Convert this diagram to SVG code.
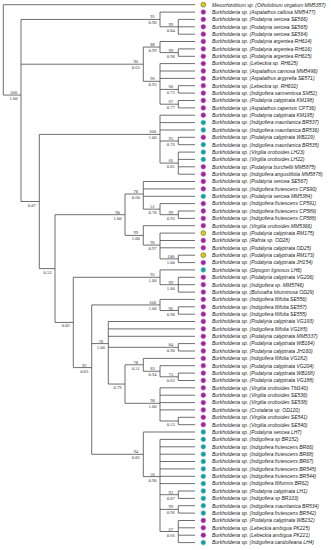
<svg xmlns="http://www.w3.org/2000/svg" width="331" height="550" viewBox="0 0 331 550">
<style>
.br{fill:none;stroke:#4a4a4a;stroke-width:0.8}
.lf{font-family:"Liberation Sans",Arial,sans-serif;font-size:5px;font-style:italic;fill:#222}
.bs{font-family:"Liberation Serif","Times New Roman",serif;font-size:4.6px;fill:#333;text-anchor:middle}
.dp{fill:#a0229e;stroke:#c46ac2;stroke-width:0.6}
.dt{fill:#1a9a9a;stroke:#6cc4c4;stroke-width:0.6}
.dy{fill:#d6cb26;stroke:#7d7620;stroke-width:0.7}
</style>
<rect width="331" height="550" fill="#ffffff"/>
<g id="connectors" class="br">
<path d="M3.3 4.7V95.05M3.3 95.05H21M21 19.45V201.5M21 19.45H160M21 64.2H143.3M21 201.5H39.3M160 12.1V26.8M160 26.8H178.3M178.3 19.4V34.2M143.3 47.05V81.3M143.3 47.05H160M143.3 81.3H160M160 41.5V52.6M160 52.6H178.3M178.3 48.9V56.3M160 63.6V104.2M160 89.4H178.3M160 104.2H178.3M178.3 85.7V93.1M178.3 100.5V107.9M39.3 134.4V268.6M39.3 134.4H160M39.3 268.6H55M160 115.2V163.1M160 141H178.3M160 163.1H178.3M178.3 137.3V144.7M178.3 152.1V174.2M55 214.7V322.45M55 214.7H125M55 322.45H73.3M125 194V235.4M125 194H143.3M125 235.4H143.3M143.3 181.5V209.15M143.3 209.15H160M160 203.6V214.7M160 214.7H178.3M178.3 211V218.4M143.3 225.7V245.1M143.3 245.1H160M160 233.1V258.9M160 258.9H178.3M178.3 255.2V262.6M73.3 277.3V367.6M73.3 277.3H160M73.3 367.6H91.7M160 269.9V284.7M160 284.7H178.3M178.3 277.3V292.1M91.7 304.95V454.3M91.7 304.95H160M91.7 343.6H108.3M91.7 454.3H143.3M160 299.4V310.5M160 310.5H178.3M178.3 306.8V314.2M108.3 321.5V384.05M108.3 347.3H178.3M108.3 384.05H125M178.3 343.6V351M125 364.8V403.3M125 364.8H143.3M125 403.3H160M143.3 358.4V371.25M143.3 371.25H160M160 365.7V376.8M160 376.8H178.3M178.3 373.1V380.5M160 387.8V421M160 421H178.3M178.3 417.3V424.7M143.3 432V476.6M143.3 476.6H160M160 439.4V531.5M160 494.7H178.3M160 509.4H178.3M160 531.5H178.3M178.3 491V498.4M178.3 505.7V513.1M178.3 520.5V542.6"/>
<path d="M3.3 4.7H195M160 12.1H195M178.3 19.4H195M178.3 26.8H195M178.3 34.2H195M160 41.5H195M178.3 48.9H195M178.3 56.3H195M160 63.6H195M160 71H195M160 78.4H195M178.3 85.7H195M178.3 93.1H195M178.3 100.5H195M178.3 107.9H195M160 115.2H195M160 122.6H195M160 130H195M178.3 137.3H195M178.3 144.7H195M178.3 152.1H195M178.3 159.4H195M178.3 166.8H195M178.3 174.2H195M143.3 181.5H195M143.3 188.9H195M143.3 196.3H195M160 203.6H195M178.3 211H195M178.3 218.4H195M143.3 225.7H195M160 233.1H195M160 240.5H195M160 247.8H195M178.3 255.2H195M178.3 262.6H195M160 269.9H195M178.3 277.3H195M178.3 284.7H195M178.3 292.1H195M160 299.4H195M178.3 306.8H195M178.3 314.2H195M108.3 321.5H195M108.3 328.9H195M108.3 336.3H195M178.3 343.6H195M178.3 351H195M143.3 358.4H195M160 365.7H195M178.3 373.1H195M178.3 380.5H195M160 387.8H195M160 395.2H195M160 402.6H195M160 409.9H195M178.3 417.3H195M178.3 424.7H195M143.3 432H195M160 439.4H195M160 446.8H195M160 454.2H195M160 461.5H195M160 468.9H195M160 476.3H195M160 483.6H195M178.3 491H195M178.3 498.4H195M178.3 505.7H195M178.3 513.1H195M178.3 520.5H195M178.3 527.8H195M178.3 535.2H195M178.3 542.6H195"/>
</g>
<g id="supports">
<g id="s_root"><text class="bs" x="13.5" y="94.05">100</text><text class="bs" x="13.5" y="100.05">1.00</text></g>
<g id="s_A"><text class="bs" x="152.5" y="18.45">95</text><text class="bs" x="152.5" y="24.45">0.90</text></g>
<g id="s_B"><text class="bs" x="170.8" y="25.8">99</text><text class="bs" x="170.8" y="31.8">0.84</text></g>
<g id="s_C"><text class="bs" x="135.8" y="63.2">96</text><text class="bs" x="135.8" y="69.2">0.63</text></g>
<g id="s_D"><text class="bs" x="152.5" y="46.05">88</text><text class="bs" x="152.5" y="52.05">0.99</text></g>
<g id="s_D1"><text class="bs" x="170.8" y="51.6">99</text><text class="bs" x="170.8" y="57.6">0.98</text></g>
<g id="s_E"><text class="bs" x="152.5" y="80.3">96</text><text class="bs" x="152.5" y="86.3">0.93</text></g>
<g id="s_F"><text class="bs" x="170.8" y="88.4">60</text><text class="bs" x="170.8" y="94.4">0.73</text></g>
<g id="s_G"><text class="bs" x="170.8" y="103.2">67</text><text class="bs" x="170.8" y="109.2">0.77</text></g>
<g id="s_N3"><text class="bs" x="31.8" y="206.5">0.87</text></g>
<g id="s_I"><text class="bs" x="152.5" y="133.4">100</text><text class="bs" x="152.5" y="139.4">1.00</text></g>
<g id="s_N19"><text class="bs" x="170.8" y="140">93</text><text class="bs" x="170.8" y="146">0.76</text></g>
<g id="s_H"><text class="bs" x="170.8" y="162.1">66</text><text class="bs" x="170.8" y="168.1">0.81</text></g>
<g id="s_N2"><text class="bs" x="47.5" y="273.6">0.53</text></g>
<g id="s_J"><text class="bs" x="117.5" y="213.7">90</text><text class="bs" x="117.5" y="219.7">1.00</text></g>
<g id="s_K"><text class="bs" x="135.8" y="193">78</text><text class="bs" x="135.8" y="199">0.60</text></g>
<g id="s_M"><text class="bs" x="152.5" y="208.15">51</text><text class="bs" x="152.5" y="214.15">0.78</text></g>
<g id="s_N29"><text class="bs" x="170.8" y="213.7">99</text><text class="bs" x="170.8" y="219.7">0.93</text></g>
<g id="s_L"><text class="bs" x="135.8" y="234.4">99</text><text class="bs" x="135.8" y="240.4">1.00</text></g>
<g id="s_P"><text class="bs" x="152.5" y="244.1">96</text><text class="bs" x="152.5" y="250.1">0.97</text></g>
<g id="s_Q"><text class="bs" x="170.8" y="257.9">100</text><text class="bs" x="170.8" y="263.9">1.00</text></g>
<g id="s_S"><text class="bs" x="65.8" y="327.45">0.82</text></g>
<g id="s_T"><text class="bs" x="152.5" y="276.3">95</text><text class="bs" x="152.5" y="282.3">1.00</text></g>
<g id="s_V"><text class="bs" x="170.8" y="283.7">99</text><text class="bs" x="170.8" y="289.7">1.00</text></g>
<g id="s_U"><text class="bs" x="84.2" y="366.6">92</text><text class="bs" x="84.2" y="372.6">0.83</text></g>
<g id="s_W"><text class="bs" x="152.5" y="303.95">100</text><text class="bs" x="152.5" y="309.95">1.00</text></g>
<g id="s_GG"><text class="bs" x="170.8" y="309.5">96</text><text class="bs" x="170.8" y="315.5">0.98</text></g>
<g id="s_X"><text class="bs" x="100.8" y="342.6">70</text><text class="bs" x="100.8" y="348.6">1.00</text></g>
<g id="s_Z"><text class="bs" x="170.8" y="346.3">84</text><text class="bs" x="170.8" y="352.3">0.90</text></g>
<g id="s_AA"><text class="bs" x="117.5" y="389.05">0.79</text></g>
<g id="s_DD"><text class="bs" x="135.8" y="363.8">78</text><text class="bs" x="135.8" y="369.8">0.51</text></g>
<g id="s_EE"><text class="bs" x="152.5" y="370.25">83</text><text class="bs" x="152.5" y="376.25">0.94</text></g>
<g id="s_FF"><text class="bs" x="170.8" y="375.8">73</text><text class="bs" x="170.8" y="381.8">0.63</text></g>
<g id="s_BB"><text class="bs" x="152.5" y="402.3">98</text><text class="bs" x="152.5" y="408.3">1.00</text></g>
<g id="s_CC"><text class="bs" x="170.8" y="426">0.53</text></g>
<g id="s_Y"><text class="bs" x="135.8" y="453.3">94</text><text class="bs" x="135.8" y="459.3">0.82</text></g>
<g id="s_HH"><text class="bs" x="152.5" y="475.6">56</text><text class="bs" x="152.5" y="481.6">0.90</text></g>
<g id="s_N67"><text class="bs" x="170.8" y="493.7">93</text><text class="bs" x="170.8" y="499.7">0.87</text></g>
<g id="s_N69"><text class="bs" x="170.8" y="508.4">99</text><text class="bs" x="170.8" y="514.4">0.96</text></g>
<g id="s_N71"><text class="bs" x="170.8" y="530.5">67</text><text class="bs" x="170.8" y="536.5">0.66</text></g>
</g>
<g id="leaves">
<g id="leaf1" transform="translate(0,4.7)"><circle class="dy" cx="203.3" cy="0" r="2.4"/><text class="lf" x="212" y="1.8">Mesorhizobium sp. (Otholobium virgatum MM5357)</text></g>
<g id="leaf2" transform="translate(0,12.1)"><circle class="dp" cx="203.3" cy="0" r="2.4"/><text class="lf" x="212" y="1.8">Burkholderia sp. (Aspalathus callosa MM5477)</text></g>
<g id="leaf3" transform="translate(0,19.4)"><circle class="dp" cx="203.3" cy="0" r="2.4"/><text class="lf" x="212" y="1.8">Burkholderia sp. (Podalyria sericea SE566)</text></g>
<g id="leaf4" transform="translate(0,26.8)"><circle class="dp" cx="203.3" cy="0" r="2.4"/><text class="lf" x="212" y="1.8">Burkholderia sp. (Podalyria sericea SE565)</text></g>
<g id="leaf5" transform="translate(0,34.2)"><circle class="dp" cx="203.3" cy="0" r="2.4"/><text class="lf" x="212" y="1.8">Burkholderia sp. (Podalyria sericea SE564)</text></g>
<g id="leaf6" transform="translate(0,41.5)"><circle class="dp" cx="203.3" cy="0" r="2.4"/><text class="lf" x="212" y="1.8">Burkholderia sp. (Podalyria argentea RH614)</text></g>
<g id="leaf7" transform="translate(0,48.9)"><circle class="dp" cx="203.3" cy="0" r="2.4"/><text class="lf" x="212" y="1.8">Burkholderia sp. (Podalyria argentea RH616)</text></g>
<g id="leaf8" transform="translate(0,56.3)"><circle class="dp" cx="203.3" cy="0" r="2.4"/><text class="lf" x="212" y="1.8">Burkholderia sp. (Podalyria argentea RH615)</text></g>
<g id="leaf9" transform="translate(0,63.6)"><circle class="dp" cx="203.3" cy="0" r="2.4"/><text class="lf" x="212" y="1.8">Burkholderia sp. (Lebeckia sp. RH625)</text></g>
<g id="leaf10" transform="translate(0,71)"><circle class="dp" cx="203.3" cy="0" r="2.4"/><text class="lf" x="212" y="1.8">Burkholderia sp. (Aspalathus carnosa MM5496)</text></g>
<g id="leaf11" transform="translate(0,78.4)"><circle class="dp" cx="203.3" cy="0" r="2.4"/><text class="lf" x="212" y="1.8">Burkholderia sp. (Aspalathus argyrella SE571)</text></g>
<g id="leaf12" transform="translate(0,85.7)"><circle class="dp" cx="203.3" cy="0" r="2.4"/><text class="lf" x="212" y="1.8">Burkholderia sp. (Lebeckia sp. RH602)</text></g>
<g id="leaf13" transform="translate(0,93.1)"><circle class="dp" cx="203.3" cy="0" r="2.4"/><text class="lf" x="212" y="1.8">Burkholderia sp. (Indigofera sarmentosa SM52)</text></g>
<g id="leaf14" transform="translate(0,100.5)"><circle class="dp" cx="203.3" cy="0" r="2.4"/><text class="lf" x="212" y="1.8">Burkholderia sp. (Podalyria calyptrata KM198)</text></g>
<g id="leaf15" transform="translate(0,107.9)"><circle class="dp" cx="203.3" cy="0" r="2.4"/><text class="lf" x="212" y="1.8">Burkholderia sp. (Aspalathus capensis CPT36)</text></g>
<g id="leaf16" transform="translate(0,115.2)"><circle class="dp" cx="203.3" cy="0" r="2.4"/><text class="lf" x="212" y="1.8">Burkholderia sp. (Podalyria calyptrata KM195)</text></g>
<g id="leaf17" transform="translate(0,122.6)"><circle class="dt" cx="203.3" cy="0" r="2.4"/><text class="lf" x="212" y="1.8">Burkholderia sp. (Indigofera mauritanica BR537)</text></g>
<g id="leaf18" transform="translate(0,130)"><circle class="dt" cx="203.3" cy="0" r="2.4"/><text class="lf" x="212" y="1.8">Burkholderia sp. (Indigofera mauritanica BR536)</text></g>
<g id="leaf19" transform="translate(0,137.3)"><circle class="dp" cx="203.3" cy="0" r="2.4"/><text class="lf" x="212" y="1.8">Burkholderia sp. (Podalyria calyptrata WB229)</text></g>
<g id="leaf20" transform="translate(0,144.7)"><circle class="dt" cx="203.3" cy="0" r="2.4"/><text class="lf" x="212" y="1.8">Burkholderia sp. (Indigofera mauritanica BR535)</text></g>
<g id="leaf21" transform="translate(0,152.1)"><circle class="dt" cx="203.3" cy="0" r="2.4"/><text class="lf" x="212" y="1.8">Burkholderia sp. (Virgilia oroboides LH23)</text></g>
<g id="leaf22" transform="translate(0,159.4)"><circle class="dt" cx="203.3" cy="0" r="2.4"/><text class="lf" x="212" y="1.8">Burkholderia sp. (Virgilia oroboides LH22)</text></g>
<g id="leaf23" transform="translate(0,166.8)"><circle class="dp" cx="203.3" cy="0" r="2.4"/><text class="lf" x="212" y="1.8">Burkholderia sp. (Podalyria burchellii MM5875)</text></g>
<g id="leaf24" transform="translate(0,174.2)"><circle class="dp" cx="203.3" cy="0" r="2.4"/><text class="lf" x="212" y="1.8">Burkholderia sp. (Indigofera angustifolia MM5878)</text></g>
<g id="leaf25" transform="translate(0,181.5)"><circle class="dp" cx="203.3" cy="0" r="2.4"/><text class="lf" x="212" y="1.8">Burkholderia sp. (Podalyria sericea SE567)</text></g>
<g id="leaf26" transform="translate(0,188.9)"><circle class="dp" cx="203.3" cy="0" r="2.4"/><text class="lf" x="212" y="1.8">Burkholderia sp. (Indigofera frutescens CPS90)</text></g>
<g id="leaf27" transform="translate(0,196.3)"><circle class="dt" cx="203.3" cy="0" r="2.4"/><text class="lf" x="212" y="1.8">Burkholderia sp. (Podalyria sericea MM5384)</text></g>
<g id="leaf28" transform="translate(0,203.6)"><circle class="dp" cx="203.3" cy="0" r="2.4"/><text class="lf" x="212" y="1.8">Burkholderia sp. (Indigofera frutescens CP591)</text></g>
<g id="leaf29" transform="translate(0,211)"><circle class="dp" cx="203.3" cy="0" r="2.4"/><text class="lf" x="212" y="1.8">Burkholderia sp. (Indigofera frutescens CP589)</text></g>
<g id="leaf30" transform="translate(0,218.4)"><circle class="dp" cx="203.3" cy="0" r="2.4"/><text class="lf" x="212" y="1.8">Burkholderia sp. (Indigofera frutescens CP588)</text></g>
<g id="leaf31" transform="translate(0,225.7)"><circle class="dp" cx="203.3" cy="0" r="2.4"/><text class="lf" x="212" y="1.8">Burkholderia sp. (Virgilia oroboides MM5366)</text></g>
<g id="leaf32" transform="translate(0,233.1)"><circle class="dy" cx="203.3" cy="0" r="2.4"/><text class="lf" x="212" y="1.8">Burkholderia sp. (Podalyria calyptrata RM175)</text></g>
<g id="leaf33" transform="translate(0,240.5)"><circle class="dp" cx="203.3" cy="0" r="2.4"/><text class="lf" x="212" y="1.8">Burkholderia sp. (Rafnia sp. OD28)</text></g>
<g id="leaf34" transform="translate(0,247.8)"><circle class="dp" cx="203.3" cy="0" r="2.4"/><text class="lf" x="212" y="1.8">Burkholderia sp. (Podalyria calyptrata OD25)</text></g>
<g id="leaf35" transform="translate(0,255.2)"><circle class="dy" cx="203.3" cy="0" r="2.4"/><text class="lf" x="212" y="1.8">Burkholderia sp. (Podalyria calyptrata RM173)</text></g>
<g id="leaf36" transform="translate(0,262.6)"><circle class="dp" cx="203.3" cy="0" r="2.4"/><text class="lf" x="212" y="1.8">Burkholderia sp. (Podalyria calyptrata JH154)</text></g>
<g id="leaf37" transform="translate(0,269.9)"><circle class="dt" cx="203.3" cy="0" r="2.4"/><text class="lf" x="212" y="1.8">Burkholderia sp. (Dipogon lignosus LH6)</text></g>
<g id="leaf38" transform="translate(0,277.3)"><circle class="dp" cx="203.3" cy="0" r="2.4"/><text class="lf" x="212" y="1.8">Burkholderia sp. (Podalyria calyptrata VG206)</text></g>
<g id="leaf39" transform="translate(0,284.7)"><circle class="dp" cx="203.3" cy="0" r="2.4"/><text class="lf" x="212" y="1.8">Burkholderia sp. (Indigofera sp. MM5746)</text></g>
<g id="leaf40" transform="translate(0,292.1)"><circle class="dp" cx="203.3" cy="0" r="2.4"/><text class="lf" x="212" y="1.8">Burkholderia sp. (Bolusafra bituminosa OD29)</text></g>
<g id="leaf41" transform="translate(0,299.4)"><circle class="dp" cx="203.3" cy="0" r="2.4"/><text class="lf" x="212" y="1.8">Burkholderia sp. (Indigofera filifolia SE556)</text></g>
<g id="leaf42" transform="translate(0,306.8)"><circle class="dp" cx="203.3" cy="0" r="2.4"/><text class="lf" x="212" y="1.8">Burkholderia sp. (Indigofera filifolia SE557)</text></g>
<g id="leaf43" transform="translate(0,314.2)"><circle class="dp" cx="203.3" cy="0" r="2.4"/><text class="lf" x="212" y="1.8">Burkholderia sp. (Indigofera filifolia SE555)</text></g>
<g id="leaf44" transform="translate(0,321.5)"><circle class="dp" cx="203.3" cy="0" r="2.4"/><text class="lf" x="212" y="1.8">Burkholderia sp. (Podalyria calyptrata VG193)</text></g>
<g id="leaf45" transform="translate(0,328.9)"><circle class="dp" cx="203.3" cy="0" r="2.4"/><text class="lf" x="212" y="1.8">Burkholderia sp. (Indigofera filifolia VG185)</text></g>
<g id="leaf46" transform="translate(0,336.3)"><circle class="dp" cx="203.3" cy="0" r="2.4"/><text class="lf" x="212" y="1.8">Burkholderia sp. (Podalyria calyptrata MM5337)</text></g>
<g id="leaf47" transform="translate(0,343.6)"><circle class="dp" cx="203.3" cy="0" r="2.4"/><text class="lf" x="212" y="1.8">Burkholderia sp. (Podalyria calyptrata WB164)</text></g>
<g id="leaf48" transform="translate(0,351)"><circle class="dp" cx="203.3" cy="0" r="2.4"/><text class="lf" x="212" y="1.8">Burkholderia sp. (Podalyria calyptrata JH160)</text></g>
<g id="leaf49" transform="translate(0,358.4)"><circle class="dp" cx="203.3" cy="0" r="2.4"/><text class="lf" x="212" y="1.8">Burkholderia sp. (Indigofera filifolia VG182)</text></g>
<g id="leaf50" transform="translate(0,365.7)"><circle class="dp" cx="203.3" cy="0" r="2.4"/><text class="lf" x="212" y="1.8">Burkholderia sp. (Podalyria calyptrata VG204)</text></g>
<g id="leaf51" transform="translate(0,373.1)"><circle class="dp" cx="203.3" cy="0" r="2.4"/><text class="lf" x="212" y="1.8">Burkholderia sp. (Podalyria calyptrata WB168)</text></g>
<g id="leaf52" transform="translate(0,380.5)"><circle class="dp" cx="203.3" cy="0" r="2.4"/><text class="lf" x="212" y="1.8">Burkholderia sp. (Podalyria calyptrata VG188)</text></g>
<g id="leaf53" transform="translate(0,387.8)"><circle class="dp" cx="203.3" cy="0" r="2.4"/><text class="lf" x="212" y="1.8">Burkholderia sp. (Virgilia oroboides TM140)</text></g>
<g id="leaf54" transform="translate(0,395.2)"><circle class="dp" cx="203.3" cy="0" r="2.4"/><text class="lf" x="212" y="1.8">Burkholderia sp. (Virgilia oroboides SE536)</text></g>
<g id="leaf55" transform="translate(0,402.6)"><circle class="dp" cx="203.3" cy="0" r="2.4"/><text class="lf" x="212" y="1.8">Burkholderia sp. (Virgilia oroboides SE538)</text></g>
<g id="leaf56" transform="translate(0,409.9)"><circle class="dp" cx="203.3" cy="0" r="2.4"/><text class="lf" x="212" y="1.8">Burkholderia sp. (Crotalaria sp. OD120)</text></g>
<g id="leaf57" transform="translate(0,417.3)"><circle class="dp" cx="203.3" cy="0" r="2.4"/><text class="lf" x="212" y="1.8">Burkholderia sp. (Virgilia oroboides SE541)</text></g>
<g id="leaf58" transform="translate(0,424.7)"><circle class="dp" cx="203.3" cy="0" r="2.4"/><text class="lf" x="212" y="1.8">Burkholderia sp. (Virgilia oroboides SE540)</text></g>
<g id="leaf59" transform="translate(0,432)"><circle class="dt" cx="203.3" cy="0" r="2.4"/><text class="lf" x="212" y="1.8">Burkholderia sp. (Podalyria sericea LH7)</text></g>
<g id="leaf60" transform="translate(0,439.4)"><circle class="dt" cx="203.3" cy="0" r="2.4"/><text class="lf" x="212" y="1.8">Burkholderia sp. (Indigofera sp BR152)</text></g>
<g id="leaf61" transform="translate(0,446.8)"><circle class="dt" cx="203.3" cy="0" r="2.4"/><text class="lf" x="212" y="1.8">Burkholderia sp. (Indigofera frutescens BR66)</text></g>
<g id="leaf62" transform="translate(0,454.2)"><circle class="dt" cx="203.3" cy="0" r="2.4"/><text class="lf" x="212" y="1.8">Burkholderia sp. (Indigofera frutescens BR68)</text></g>
<g id="leaf63" transform="translate(0,461.5)"><circle class="dt" cx="203.3" cy="0" r="2.4"/><text class="lf" x="212" y="1.8">Burkholderia sp. (Indigofera frutescens BR67)</text></g>
<g id="leaf64" transform="translate(0,468.9)"><circle class="dt" cx="203.3" cy="0" r="2.4"/><text class="lf" x="212" y="1.8">Burkholderia sp. (Indigofera frutescens BR545)</text></g>
<g id="leaf65" transform="translate(0,476.3)"><circle class="dt" cx="203.3" cy="0" r="2.4"/><text class="lf" x="212" y="1.8">Burkholderia sp. (Indigofera frutescens BR544)</text></g>
<g id="leaf66" transform="translate(0,483.6)"><circle class="dt" cx="203.3" cy="0" r="2.4"/><text class="lf" x="212" y="1.8">Burkholderia sp. (Indigofera filiformis BR62)</text></g>
<g id="leaf67" transform="translate(0,491)"><circle class="dt" cx="203.3" cy="0" r="2.4"/><text class="lf" x="212" y="1.8">Burkholderia sp. (Podalyria calyptrata LH1)</text></g>
<g id="leaf68" transform="translate(0,498.4)"><circle class="dt" cx="203.3" cy="0" r="2.4"/><text class="lf" x="212" y="1.8">Burkholderia sp. (Indigofera sp BR103)</text></g>
<g id="leaf69" transform="translate(0,505.7)"><circle class="dt" cx="203.3" cy="0" r="2.4"/><text class="lf" x="212" y="1.8">Burkholderia sp. (Indigofera mauritanica BR534)</text></g>
<g id="leaf70" transform="translate(0,513.1)"><circle class="dt" cx="203.3" cy="0" r="2.4"/><text class="lf" x="212" y="1.8">Burkholderia sp. (Indigofera frutescens BR542)</text></g>
<g id="leaf71" transform="translate(0,520.5)"><circle class="dp" cx="203.3" cy="0" r="2.4"/><text class="lf" x="212" y="1.8">Burkholderia sp. (Podalyria calyptrata WB232)</text></g>
<g id="leaf72" transform="translate(0,527.8)"><circle class="dp" cx="203.3" cy="0" r="2.4"/><text class="lf" x="212" y="1.8">Burkholderia sp. (Lebeckia ambigua PK225)</text></g>
<g id="leaf73" transform="translate(0,535.2)"><circle class="dp" cx="203.3" cy="0" r="2.4"/><text class="lf" x="212" y="1.8">Burkholderia sp. (Lebeckia ambigua PK221)</text></g>
<g id="leaf74" transform="translate(0,542.6)"><circle class="dt" cx="203.3" cy="0" r="2.4"/><text class="lf" x="212" y="1.8">Burkholderia sp. (Indigofera candolleana LH4)</text></g>
</g>
</svg>
